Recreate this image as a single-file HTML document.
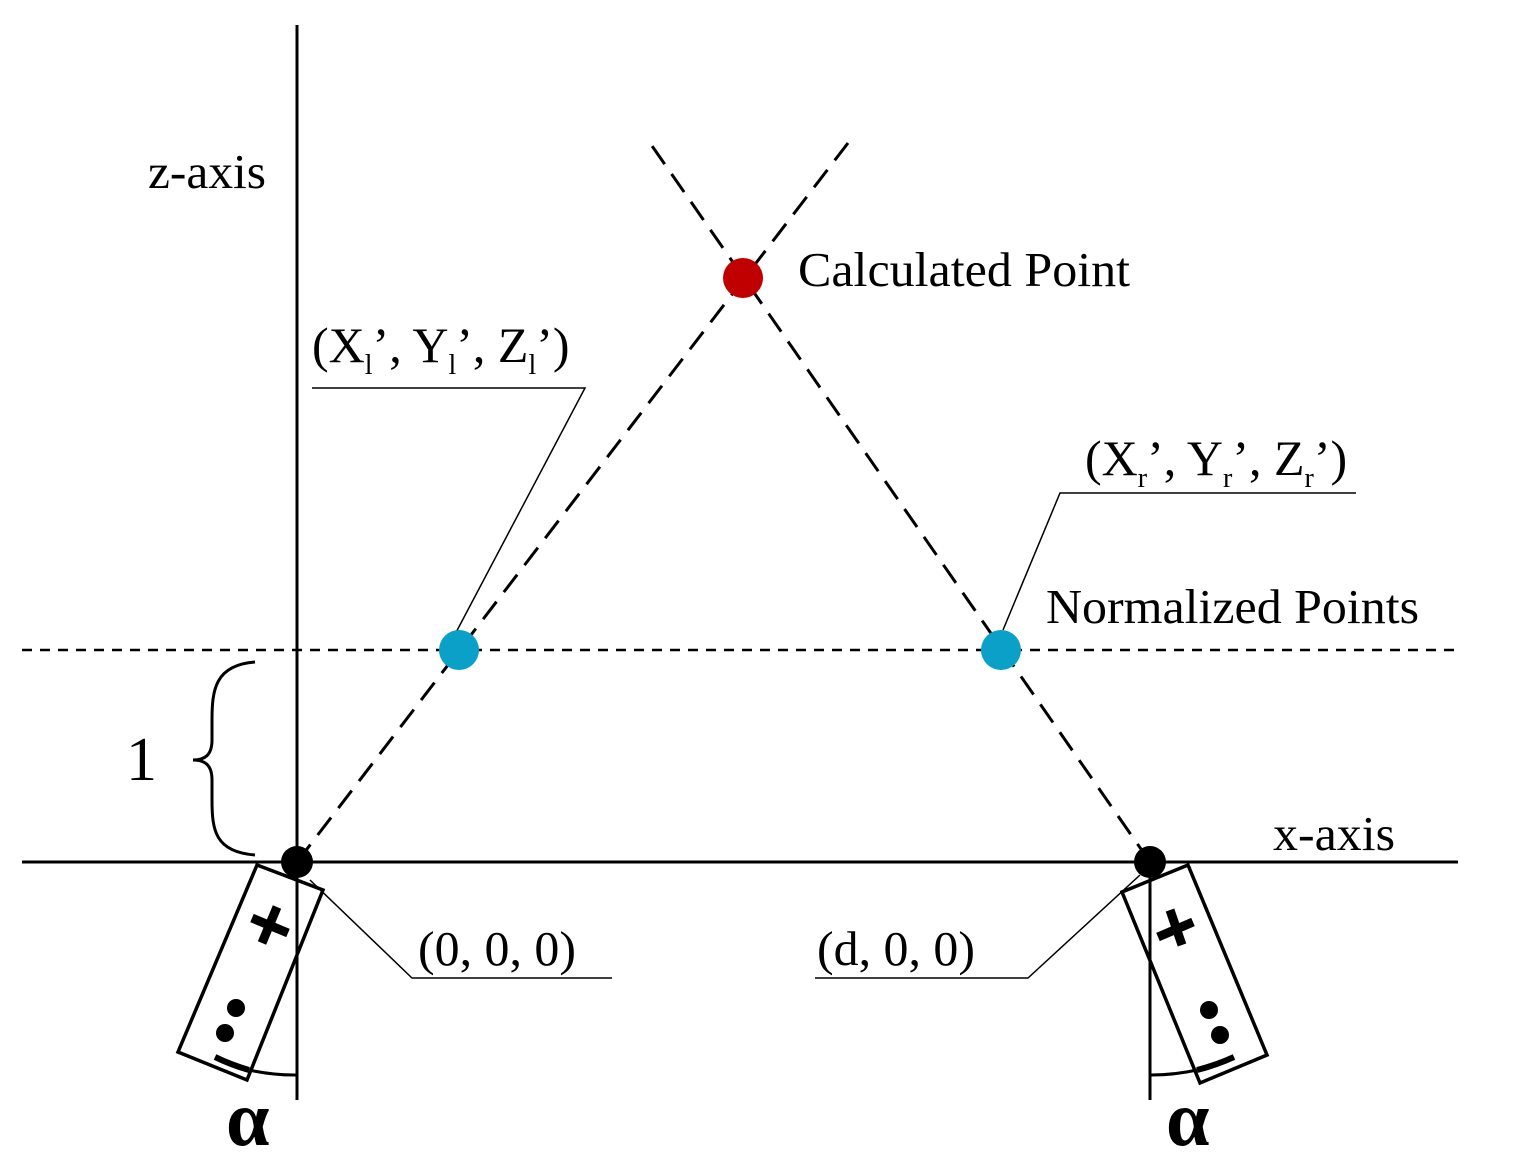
<!DOCTYPE html>
<html><head><meta charset="utf-8"><style>
html,body{margin:0;padding:0;background:#fff}
svg{display:block}
text{font-family:"Liberation Serif",serif;fill:#000}
</style></head><body>
<svg id="d" width="1529" height="1176" viewBox="0 0 1529 1176">
<g stroke="#000" stroke-width="3" fill="none">
<line x1="297" y1="25" x2="297" y2="1100"/>
<line x1="22" y1="862" x2="1458" y2="862"/>
<line x1="1150" y1="862" x2="1150" y2="1100"/>
<line x1="22" y1="650" x2="1460" y2="650" stroke-width="2.5" stroke-dasharray="10 8"/>
<line x1="297" y1="862" x2="848" y2="143" stroke-width="3" stroke-dasharray="22 12"/>
<line x1="1150" y1="862" x2="650" y2="143" stroke-width="3" stroke-dasharray="22 12"/>
</g>
<g stroke="#000" stroke-width="1.5" fill="none">
<polyline points="310,880 412,978 612,978"/>
<polyline points="1140,875 1028,978 815,978"/>
<polyline points="312,388 585,388 452,640"/>
<polyline points="1356,493 1060,493 1003,630"/>
</g>
<path d="M255,662 C215,665 212,690 212,720 L212,740 C212,755 205,760 193,760 C205,760 212,765 212,780 L212,800 C212,830 215,852 255,855" stroke="#000" stroke-width="3" fill="none"/>
<g>
<polygon points="257,865 323,890 247,1080 178,1052" fill="none" stroke="#000" stroke-width="3.5"/>
<line x1="252" y1="918" x2="288" y2="933" stroke="#000" stroke-width="9"/>
<line x1="277" y1="907" x2="262" y2="943" stroke="#000" stroke-width="9"/>
<circle cx="236" cy="1008" r="9"/><circle cx="225" cy="1033" r="9"/>
<path d="M215,1057 A213,213 0 0 0 249,1070" stroke="#000" stroke-width="6" fill="none"/>
<path d="M249,1070 A213,213 0 0 0 297,1075" stroke="#000" stroke-width="3" fill="none"/>
</g>
<g>
<polygon points="1122,892 1188,865 1267,1055 1200,1083" fill="none" stroke="#000" stroke-width="3.5"/>
<line x1="1158" y1="937" x2="1193" y2="922" stroke="#000" stroke-width="9"/>
<line x1="1170" y1="910" x2="1182" y2="945" stroke="#000" stroke-width="9"/>
<circle cx="1209" cy="1010" r="9"/><circle cx="1220" cy="1035" r="9"/>
<path d="M1150,1075 A213,213 0 0 0 1197,1070" stroke="#000" stroke-width="3" fill="none"/>
<path d="M1197,1070 A213,213 0 0 0 1234,1057" stroke="#000" stroke-width="6" fill="none"/>
</g>
<g id="marks"></g>
<g font-size="49">
<text x="148" y="188" textLength="118" lengthAdjust="spacingAndGlyphs">z-axis</text>
<text x="1273" y="850" textLength="122" lengthAdjust="spacingAndGlyphs">x-axis</text>
<text x="798" y="286" textLength="332" lengthAdjust="spacingAndGlyphs">Calculated Point</text>
<text x="1046" y="623" textLength="373" lengthAdjust="spacingAndGlyphs">Normalized Points</text>
<text x="312" y="362" font-size="50">(X<tspan font-size="28" dy="12">l</tspan><tspan dy="-12">’, Y</tspan><tspan font-size="28" dy="12">l</tspan><tspan dy="-12">’, Z</tspan><tspan font-size="28" dy="12">l</tspan><tspan dy="-12">’)</tspan></text>
<text x="1085" y="475" font-size="50">(X<tspan font-size="28" dy="12">r</tspan><tspan dy="-12">’, Y</tspan><tspan font-size="28" dy="12">r</tspan><tspan dy="-12">’, Z</tspan><tspan font-size="28" dy="12">r</tspan><tspan dy="-12">’)</tspan></text>
<text x="418" y="965" textLength="158" lengthAdjust="spacingAndGlyphs">(0, 0, 0)</text>
<text x="817" y="965" textLength="158" lengthAdjust="spacingAndGlyphs">(d, 0, 0)</text>
<text x="126" y="780" font-size="62">1</text>
<text x="226" y="1145" font-size="78" font-weight="bold">α</text>
<text x="1166" y="1145" font-size="78" font-weight="bold">α</text>
</g>
</svg>
<script>
const pointNames=["origin","d-point","left-normalized","right-normalized","calculated"];
const pointX=[297,1150,459,1001,743];
const pointY=[862,862,650,650,278];
const pointR=[16,16,20,20,20];
const pointColor=["#000","#000","#0aa0c8","#0aa0c8","#c00000"];
const g=document.getElementById('marks');
for(let i=0;i<pointX.length;i++){
  const c=document.createElementNS('http://www.w3.org/2000/svg','circle');
  c.setAttribute('cx',pointX[i]);c.setAttribute('cy',pointY[i]);c.setAttribute('r',pointR[i]);
  c.setAttribute('fill',pointColor[i]);
  
  
  g.appendChild(c);
}
</script>
</body></html>
